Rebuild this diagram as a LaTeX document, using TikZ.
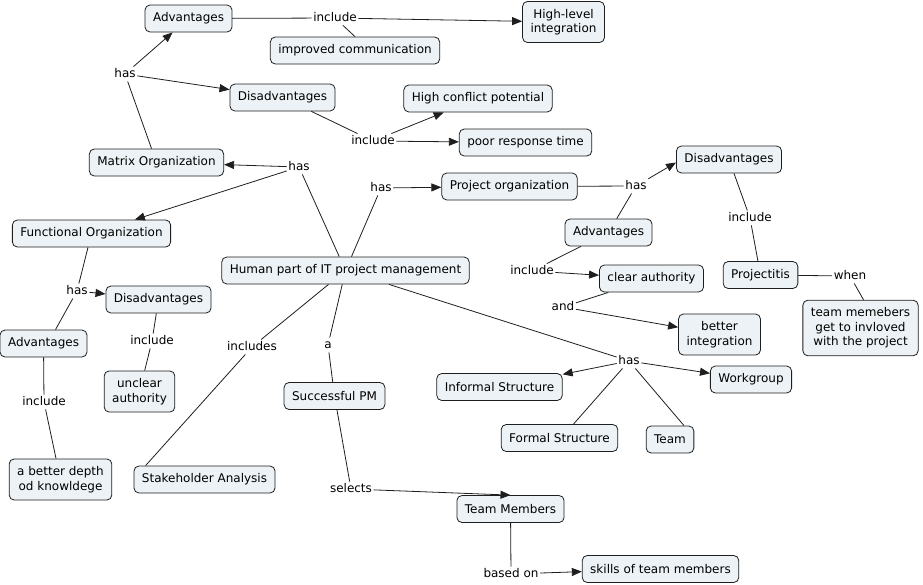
\documentclass[tikz,border=0pt]{standalone}
\usepackage{fontspec}
\setmainfont{DejaVu Sans}
\usetikzlibrary{arrows.meta,calc}
\definecolor{boxfill}{RGB}{236,242,245}
\definecolor{edgecol}{RGB}{30,30,30}
\begin{document}
\begin{tikzpicture}[x=1pt,y=-1pt,
  concept/.style={draw=edgecol, fill=boxfill, rounded corners=5pt, line width=0.8pt,
    inner xsep=8pt, inner ysep=0pt, minimum height=27pt,
    font=\fontsize{12}{14.5}\selectfont, align=center},
  concepttwo/.style={concept, inner ysep=7.5pt, minimum height=0pt},
  lbl/.style={inner sep=1.5pt, font=\fontsize{12}{14.5}\selectfont, text height=9pt, text depth=2.5pt},
  conn/.style={draw=edgecol, line width=0.8pt},
  arr/.style={conn, -{Triangle[length=10pt,width=8pt]}}]
\useasboundingbox (0,0) rectangle (923,584);

% concepts
\node[concept] (advM) at (188.5,18.5) {Advantages};
\node[concept] (impc) at (355,50.5) {improved communication};
\node[concepttwo] (hli) at (563.5,22) {High-level\\integration};
\node[concept] (disM) at (282.5,97.5) {Disadvantages};
\node[concept] (hcp) at (478,98.5) {High conflict potential};
\node[concept] (prt) at (525.5,142.5) {poor response time};
\node[concept] (mo) at (156.5,162.5) {Matrix Organization};
\node[concept] (po) at (509.5,186.5) {Project organization};
\node[concept] (disP) at (729,159.5) {Disadvantages};
\node[concept] (advP) at (608.5,232.5) {Advantages};
\node[concept] (proj) at (760.5,275) {Projectitis};
\node[concept] (ca) at (651.5,278.5) {clear authority};
\node[concepttwo] (bi) at (719.5,334.5) {better\\integration};
\node[concepttwo] (tmg) at (860.5,328) {team memebers\\get to invloved\\with the project};
\node[concept] (fo) at (91.5,233.5) {Functional Organization};
\node[concept] (hp) at (345.5,270.5) {Human part of IT project management};
\node[concept] (disF) at (158.5,299.5) {Disadvantages};
\node[concept] (advF) at (43.5,343.5) {Advantages};
\node[concepttwo] (ua) at (139.5,391.5) {unclear\\authority};
\node[concepttwo] (bd) at (60.5,479.5) {a better depth\\od knowldege};
\node[concept] (sa) at (204.5,479.5) {Stakeholder Analysis};
\node[concept] (spm) at (334.5,396) {Successful PM};
\node[concept] (is) at (499.5,387) {Informal Structure};
\node[concept] (wg) at (751,379.5) {Workgroup};
\node[concept] (fs) at (559.5,438) {Formal Structure};
\node[concept] (team) at (670,439.5) {Team};
\node[concept] (tmem) at (510.5,509) {Team Members};
\node[concept] (sk) at (660.5,569) {skills of team members};

% linking phrases
\node[lbl] (l1) at (335,18) {include};
\node[lbl] (l2) at (125,74) {has};
\node[lbl] (l3) at (373,141) {include};
\node[lbl] (l4) at (299,167) {has};
\node[lbl] (l5) at (381,188) {has};
\node[lbl] (l6) at (636,186) {has};
\node[lbl] (l7) at (750,218) {include};
\node[lbl] (l8) at (850,276) {when};
\node[lbl] (l9) at (532,271) {include};
\node[lbl] (l10) at (563,307) {and};
\node[lbl] (l11) at (77,291) {has};
\node[lbl] (l12) at (152,341) {include};
\node[lbl] (l13) at (44,402) {include};
\node[lbl] (l14) at (252,347) {includes};
\node[lbl] (l15) at (328,345) {a};
\node[lbl] (l16) at (351,489) {selects};
\node[lbl] (l17) at (511,574) {based on};
\node[lbl] (l18) at (629,361) {has};

% connectors
\draw[conn] (advM) -- (l1);
\draw[arr] (l1) -- (hli);
\draw[conn] (l1) -- (impc.north);

\draw[conn] (mo) -- (l2);
\draw[arr] (l2) -- (advM);
\draw[arr] (l2) -- (disM);

\draw[conn] (disM) -- (l3);
\draw[arr] (l3) -- (hcp);
\draw[arr] (l3) -- (prt);

\draw[conn] (hp) -- (l4);
\draw[arr] (l4) -- (mo);
\draw[arr] (l4) -- (fo);

\draw[conn] (hp) -- (l5);
\draw[arr] (l5) -- (po);

\draw[conn] (po) -- (l6);
\draw[conn] (advP) -- (l6);
\draw[arr] (l6) -- ($(disP.west)+(0,3)$);

\draw[conn] (disP) -- (l7);
\draw[conn] (l7) -- (proj);

\draw[conn] (proj) -- (l8);
\draw[conn] (l8) -- ($(tmg.north)+(3,0)$);

\draw[conn] (advP) -- (l9);
\draw[arr] (l9) -- (ca);

\draw[conn] (ca) -- (l10);
\draw[arr] (l10) -- (bi);

\draw[conn] (fo) -- (l11);
\draw[conn] (l11) -- ($(advF.north)+(12,0)$);
\draw[arr] (l11) -- (disF);

\draw[conn] (disF) -- (l12);
\draw[conn] (l12) -- (ua);

\draw[conn] (advF) -- (l13);
\draw[conn] (l13) -- (bd);

\draw[conn] (hp) -- (l14);
\draw[conn] (l14) -- ($(sa.north west)+(12,0)$);

\draw[conn] (hp) -- (l15);
\draw[conn] (l15) -- (spm);

\draw[conn] (spm) -- (l16);
\draw[arr] (l16) -- (tmem.north);

\draw[conn] (tmem) -- (l17);
\draw[arr] (l17) -- (sk);

\draw[conn] (hp) -- (l18);
\draw[arr] (l18) -- (is);
\draw[arr] (l18) -- (wg);
\draw[conn] (l18) -- ($(fs.north)+(14,0)$);
\draw[conn] (l18) -- ($(team.north)+(14,0)$);
\end{tikzpicture}
\end{document}
